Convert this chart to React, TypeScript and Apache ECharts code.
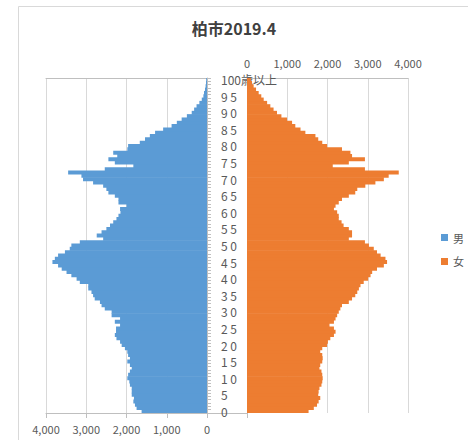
import React, { useEffect, useRef } from "react";
import * as echarts from "echarts";

// Kashiwa city population by single year of age, April 2019
const ages: string[] = Array.from({ length: 101 }, (_, i) => (i === 100 ? "100歳以上" : String(i)));

const male: number[] = [
  1625, 1750, 1790, 1830, 1815, 1870, 1870, 1870, 1915, 1930,
  1980, 1960, 1915, 1870, 1915, 1980, 1915, 1960, 1980, 2040,
  2120, 2160, 2250, 2290, 2260, 2260, 2160, 2290, 2160, 2370,
  2370, 2540, 2620, 2660, 2790, 2830, 2870, 2950, 2950, 3160,
  3240, 3370, 3490, 3610, 3700, 3840, 3780, 3700, 3530, 3410,
  3370, 3160, 2580, 2740, 2620, 2500, 2410, 2330, 2250, 2200,
  2150, 2160, 2000, 2200, 2200, 2290, 2450, 2500, 2580, 2830,
  3080, 3120, 3450, 2540, 1830, 2290, 2450, 2230, 2330, 1980,
  1960, 1670, 1540, 1420, 1290, 1090, 880, 750, 630, 500,
  380, 320, 260, 190, 130, 90, 75, 50, 35, 25,
  20,
];

const female: number[] = [
  1530, 1660, 1740, 1780, 1820, 1770, 1780, 1800, 1850, 1870,
  1880, 1870, 1850, 1800, 1820, 1870, 1880, 1870, 1820, 1870,
  1990, 2010, 2070, 2160, 2200, 2160, 2050, 2160, 2200, 2240,
  2280, 2320, 2360, 2530, 2610, 2690, 2740, 2780, 2820, 2900,
  3010, 3070, 3110, 3230, 3400, 3480, 3440, 3320, 3230, 3150,
  3030, 2930, 2530, 2610, 2610, 2530, 2400, 2350, 2280, 2280,
  2240, 2160, 2200, 2280, 2360, 2530, 2690, 2740, 2940, 3190,
  3400, 3520, 3770, 2930, 2130, 2530, 2930, 2610, 2570, 2360,
  1990, 1870, 1770, 1700, 1450, 1330, 1200, 1120, 995, 855,
  745, 660, 580, 500, 415, 355, 290, 225, 165, 125,
  100,
];

const seriesNames: string[] = ["男", "女"];
const valueTicks: number[] = [0, 1000, 2000, 3000, 4000];

const FONT = "'Noto Sans CJK JP', 'Noto Sans', sans-serif";
const AXIS_COLOR = "#bfbfbf";
const GRID_COLOR = "#d9d9d9";
const TEXT_COLOR = "#595959";
const MALE_COLOR = "#5B9BD5";
const FEMALE_COLOR = "#ED7D31";

const fmtValue = (v: number) => v.toLocaleString("en-US");
const fmtAge = (v: string) => (v.length === 2 ? v[0] + " " + v[1] : v);

export default function App() {
  const ref = useRef<HTMLDivElement>(null);

  useEffect(() => {
    if (!ref.current) return;
    const chart = echarts.init(ref.current, undefined, { renderer: "svg" });
    const vMin = valueTicks[0];
    const vMax = valueTicks[valueTicks.length - 1];
    const step = valueTicks[1] - valueTicks[0];

    chart.setOption({
      animation: false,
      textStyle: { fontFamily: FONT },
      title: {
        text: "柏市2019.4",
        left: "center",
        top: 15,
        textStyle: { fontSize: 16, fontWeight: "bold", color: "#404040", fontFamily: FONT },
      },
      legend: {
        orient: "vertical",
        left: 436,
        top: 227,
        itemWidth: 7,
        itemHeight: 7,
        itemGap: 13,
        icon: "rect",
        data: seriesNames,
        textStyle: { fontSize: 11, color: TEXT_COLOR, fontFamily: FONT },
      },
      grid: [
        { left: 46, top: 78, width: 161, height: 335 },
        { left: 247, top: 78, width: 161, height: 335 },
      ],
      xAxis: [
        {
          gridIndex: 0,
          type: "value",
          min: vMin,
          max: vMax,
          interval: step,
          inverse: true,
          position: "bottom",
          axisLine: { show: true, lineStyle: { color: AXIS_COLOR } },
          axisTick: { show: true, length: 5, lineStyle: { color: AXIS_COLOR } },
          axisLabel: { color: TEXT_COLOR, fontSize: 11, margin: 10, formatter: fmtValue },
          splitLine: { show: true, lineStyle: { color: GRID_COLOR } },
        },
        {
          gridIndex: 0,
          type: "value",
          min: vMin,
          max: vMax,
          interval: step,
          inverse: true,
          position: "top",
          axisLine: { show: true, lineStyle: { color: AXIS_COLOR } },
          axisTick: { show: false },
          axisLabel: { show: false },
          splitLine: { show: false },
        },
        {
          gridIndex: 1,
          type: "value",
          min: vMin,
          max: vMax,
          interval: step,
          position: "top",
          axisLine: { show: true, lineStyle: { color: AXIS_COLOR } },
          axisTick: { show: false },
          axisLabel: { color: TEXT_COLOR, fontSize: 11, margin: 10, formatter: fmtValue },
          splitLine: { show: true, lineStyle: { color: GRID_COLOR } },
        },
      ],
      yAxis: [
        {
          gridIndex: 0,
          type: "category",
          data: ages,
          position: "right",
          axisLine: { show: true, lineStyle: { color: AXIS_COLOR } },
          axisTick: { show: true, interval: 0, length: 4, lineStyle: { color: AXIS_COLOR } },
          axisLabel: {
            interval: 4,
            align: "left",
            margin: 14,
            fontSize: 12,
            color: TEXT_COLOR,
            formatter: fmtAge,
          },
        },
        {
          gridIndex: 1,
          type: "category",
          data: ages,
          position: "left",
          axisLine: { show: true, lineStyle: { color: AXIS_COLOR } },
          axisTick: { show: false },
          axisLabel: { show: false },
        },
      ],
      series: [
        {
          name: seriesNames[0],
          type: "bar",
          xAxisIndex: 0,
          yAxisIndex: 0,
          data: male,
          barWidth: 4,
          itemStyle: { color: MALE_COLOR },
        },
        {
          name: seriesNames[1],
          type: "bar",
          xAxisIndex: 2,
          yAxisIndex: 1,
          data: female,
          barWidth: 4,
          itemStyle: { color: FEMALE_COLOR },
        },
      ],
      graphic: [
        {
          type: "rect",
          silent: true,
          shape: { x: 18.5, y: 6.5, width: 600, height: 600 },
          style: { fill: "none", stroke: GRID_COLOR, lineWidth: 1 },
        },
        {
          type: "line",
          silent: true,
          shape: { x1: 207, y1: 413.5, x2: 248, y2: 413.5 },
          style: { stroke: AXIS_COLOR, lineWidth: 1 },
        },
        {
          type: "line",
          silent: true,
          shape: { x1: 247.5, y1: 413, x2: 247.5, y2: 418 },
          style: { stroke: AXIS_COLOR, lineWidth: 1 },
        },
      ],
    });
    return () => chart.dispose();
  }, []);

  return (
    <div
      ref={ref}
      style={{ position: "fixed", left: 0, top: 0, width: 468, height: 440, background: "#fff" }}
    />
  );
}
